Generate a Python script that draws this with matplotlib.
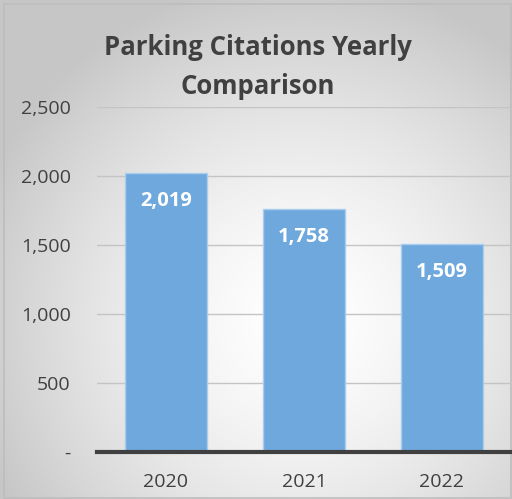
import numpy as np
import matplotlib
matplotlib.use("Agg")
import matplotlib.pyplot as plt
from matplotlib.ticker import FuncFormatter
from matplotlib.patches import Rectangle

years = ["2020", "2021", "2022"]
citations = [2019, 1758, 1509]
yticks = [0, 500, 1000, 1500, 2000, 2500]

plt.rcParams['font.family'] = ['Open Sans', 'DejaVu Sans']

W, H = 512, 499
fig = plt.figure(figsize=(W/100, H/100), dpi=100)

# radial gradient background
bg = fig.add_axes([0, 0, 1, 1])
yy, xx = np.mgrid[0:H, 0:W]
cx, cy = 300, 320
r = np.sqrt(((xx - cx) / 340.0) ** 2 + ((yy - cy) / 340.0) ** 2)
r = np.clip(r, 0, 1)
val = 1.0 - 0.22 * r ** 1.5
img = np.dstack([val, val, val])
bg.imshow(img, extent=[0, W, H, 0], aspect='auto', interpolation='bilinear')
bg.set_xlim(0, W); bg.set_ylim(H, 0)
bg.axis('off')
bg.add_patch(Rectangle((4, 4), W - 5, H - 5, fill=False, edgecolor='#bdbdbd', lw=1.2))

ax = fig.add_axes([97/W, 1 - 452/H, 414/W, 345/H])
ax.patch.set_alpha(0)
x = np.arange(len(years))
bars = ax.bar(x, citations, width=0.6, color='#6fa8dc', edgecolor='#a9cdee', linewidth=1, zorder=3)
ax.set_xlim(-0.5, 2.5)
ax.set_ylim(0, 2500)
ax.set_yticks(yticks)
ax.yaxis.set_major_formatter(FuncFormatter(lambda v, p: '-' if v == 0 else f'{int(v):,}'))
ax.set_xticks(x)
ax.set_xticklabels(years)
ax.grid(axis='y', color='#c4c4c4', lw=1, zorder=0)
for s in ['top', 'right', 'left']:
    ax.spines[s].set_visible(False)
ax.spines['bottom'].set_color('#404040')
ax.spines['bottom'].set_linewidth(3)
ax.spines['bottom'].set_zorder(4)
ax.tick_params(axis='both', length=0, labelsize=14, colors='#404040')
ax.tick_params(axis='y', pad=19)
ax.tick_params(axis='x', pad=15)

for xi, v in zip(x, citations):
    ax.annotate(f'{v:,}', (xi, v), xytext=(0, -20), textcoords='offset points',
                ha='center', va='center', color='white', fontsize=14.5, fontweight='bold', zorder=5)

fig.text(258/W, 1 - 67/H, 'Parking Citations Yearly\nComparison', ha='center', va='center',
         fontsize=18.5, fontweight='bold', color='#404040', linespacing=1.55)

fig.savefig('out.png', dpi=100)
